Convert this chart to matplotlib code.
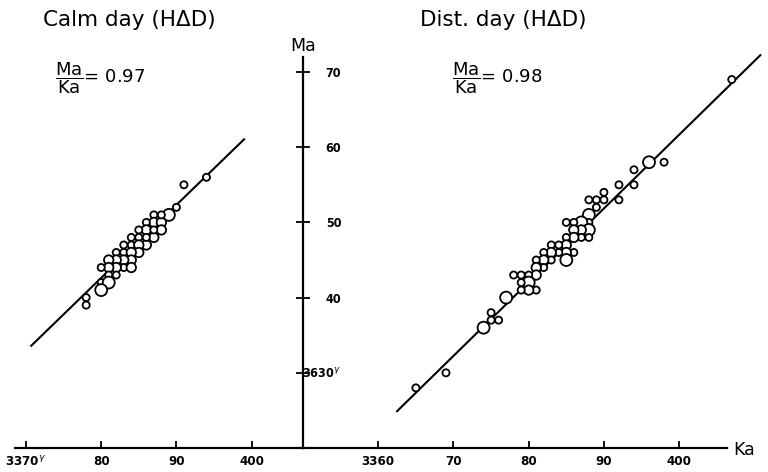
import matplotlib
matplotlib.use('Agg')
import matplotlib.pyplot as plt
import numpy as np

# ---------------- data ----------------
# Calm day (H vs D): Kakioka H (Ka) vs Memambetsu H (Ma), gamma; n = number of coincident points
calm_ka = [3394, 3391, 3390, 3389, 3387, 3387, 3388, 3386, 3388, 3386, 3385, 3387, 3384, 3385,
           3386, 3384, 3385, 3383, 3385, 3383, 3382, 3384, 3384, 3383, 3382, 3381, 3383, 3382,
           3384, 3381, 3380, 3382, 3381, 3380, 3381, 3380, 3378, 3378, 3387, 3386, 3388]
calm_ma = [3656, 3655, 3652, 3651, 3651, 3650, 3650, 3650, 3649, 3649, 3649, 3648, 3648, 3648,
           3647, 3647, 3647, 3647, 3646, 3646, 3646, 3646, 3645, 3645, 3645, 3645, 3644, 3644,
           3644, 3644, 3644, 3643, 3643, 3642, 3642, 3641, 3640, 3639, 3649, 3648, 3651]
calm_n = [1, 1, 1, 3, 1, 2, 2, 1, 2, 2, 1, 2, 1, 1,
          2, 1, 2, 1, 2, 1, 1, 2, 2, 2, 2, 2, 1, 2,
          2, 2, 1, 1, 1, 1, 3, 3, 1, 1, 1, 1, 1]

dist_ka = [3407, 3398, 3396, 3394, 3394, 3392, 3390, 3392, 3390, 3389, 3388, 3389, 3388, 3388,
           3387, 3386, 3385, 3388, 3387, 3386, 3388, 3387, 3386, 3385, 3385, 3384, 3383, 3386,
           3385, 3384, 3383, 3382, 3385, 3383, 3382, 3381, 3382, 3381, 3381, 3380, 3379, 3378,
           3380, 3379, 3381, 3380, 3379, 3377, 3375, 3376, 3375, 3374, 3369, 3365]
dist_ma = [3669, 3658, 3658, 3657, 3655, 3655, 3654, 3653, 3653, 3653, 3653, 3652, 3651, 3650,
           3650, 3650, 3650, 3649, 3649, 3649, 3648, 3648, 3648, 3648, 3647, 3647, 3647, 3646,
           3646, 3646, 3646, 3646, 3645, 3645, 3645, 3645, 3644, 3644, 3643, 3643, 3643, 3643,
           3642, 3642, 3641, 3641, 3641, 3640, 3638, 3637, 3637, 3636, 3630, 3628]
dist_n = [1, 1, 3, 1, 1, 1, 1, 1, 1, 1, 1, 1, 3, 1,
          3, 1, 1, 3, 2, 2, 1, 1, 2, 1, 2, 1, 1, 1,
          2, 1, 2, 1, 3, 1, 2, 1, 1, 2, 2, 1, 1, 1,
          3, 1, 1, 2, 1, 3, 1, 1, 1, 3, 1, 1]

calm_ratio = 0.97
dist_ratio = 0.98
calm_line_ka = [3370.7, 3399.0]
calm_line_ma0 = 3633.6
dist_line_ka = [3362.5, 3410.8]
dist_line_ma0 = 3624.9

left_ticks = [3370, 3380, 3390, 3400]
left_labels = ['3370$^{\\gamma}$', '80', '90', '400']
right_ticks = [3360, 3370, 3380, 3390, 3400]
right_labels = ['3360', '70', '80', '90', '400']
ma_ticks = [3630, 3640, 3650, 3660, 3670]
ma_labels = ['3630$^{\\gamma}$', '40', '50', '60', '70']

# ---------------- layout ----------------
W, H = 768, 472
plt.rcParams['font.family'] = ['DejaVu Sans']
fig = plt.figure(figsize=(W / 100, H / 100), dpi=100)

bot_px, top_px = 448, 57
axL = fig.add_axes([15 / W, (H - bot_px) / H, (303 - 15) / W, (bot_px - top_px) / H])
axR = fig.add_axes([303 / W, (H - bot_px) / H, (727 - 303) / W, (bot_px - top_px) / H])

s = 7.52  # px per gamma
axL.set_xlim(3370 - 11 / s, 3370 + 277 / s)
axR.set_xlim(3360 - 75.3 / s, 3360 + (727 - 378.3) / s)
for ax in (axL, axR):
    ax.set_ylim(3620, 3620 + (bot_px - top_px) / s)
    ax.set_facecolor('none')
    for sp in ('top', 'left', 'right'):
        ax.spines[sp].set_visible(False)
    ax.spines['bottom'].set_linewidth(1.6)

axL.spines['right'].set_visible(True)
axL.spines['right'].set_linewidth(1.6)

size_map = {1: 26, 2: 46, 3: 74}


def panel(ax, ka, ma, n, ratio, lka, lma0):
    lka = np.array(lka)
    ax.plot(lka, lma0 + ratio * (lka - lka[0]), color='black', lw=1.5, clip_on=False, zorder=2)
    ax.scatter(ka, ma, s=[size_map[k] for k in n], facecolors='white', edgecolors='black',
               linewidths=1.3, zorder=3, clip_on=False)


panel(axL, calm_ka, calm_ma, calm_n, calm_ratio, calm_line_ka, calm_line_ma0)
panel(axR, dist_ka, dist_ma, dist_n, dist_ratio, dist_line_ka, dist_line_ma0)

# bottom (Ka) axes ticks
axL.set_xticks(left_ticks)
axL.set_xticklabels(left_labels)
axR.set_xticks(right_ticks)
axR.set_xticklabels(right_labels)
for ax in (axL, axR):
    ax.tick_params(axis='x', direction='in', length=5, width=1.3, pad=5,
                   labelsize=9.5)
    for lab in ax.get_xticklabels():
        lab.set_fontweight('bold')
        lab.set_fontstretch('condensed')
axR.set_yticks([])

# central Ma axis
axL.yaxis.tick_right()
axL.set_yticks(ma_ticks)
axL.set_yticklabels(ma_labels)
axL.tick_params(axis='y', which='both', left=False, right=True, labelleft=False, labelright=True,
                direction='inout', length=10, width=1.3, pad=22.5, labelsize=9)
for lab in axL.get_yticklabels():
    lab.set_horizontalalignment('right')
    lab.set_fontweight('bold')
    lab.set_fontstretch('condensed')

# labels and titles
fig.text(303 / W, 1 - 46 / H, 'Ma', ha='center', va='center', fontsize=12.5)
fig.text(733 / W, 1 - 450 / H, 'Ka', ha='left', va='center', fontsize=12.5)
fig.text(129 / W, 1 - 20 / H, 'Calm day (H\u0394D)', ha='center', va='center', fontsize=15.5)
fig.text(503 / W, 1 - 20 / H, 'Dist. day (H\u0394D)', ha='center', va='center', fontsize=15.5)
fig.text(55 / W, 1 - 78 / H, r'$\dfrac{\mathrm{Ma}}{\mathrm{Ka}}$' + '= %.2f' % calm_ratio,
         ha='left', va='center', fontsize=13)
fig.text(452 / W, 1 - 78 / H, r'$\dfrac{\mathrm{Ma}}{\mathrm{Ka}}$' + '= %.2f' % dist_ratio,
         ha='left', va='center', fontsize=13)

fig.savefig('out.png', dpi=100)
